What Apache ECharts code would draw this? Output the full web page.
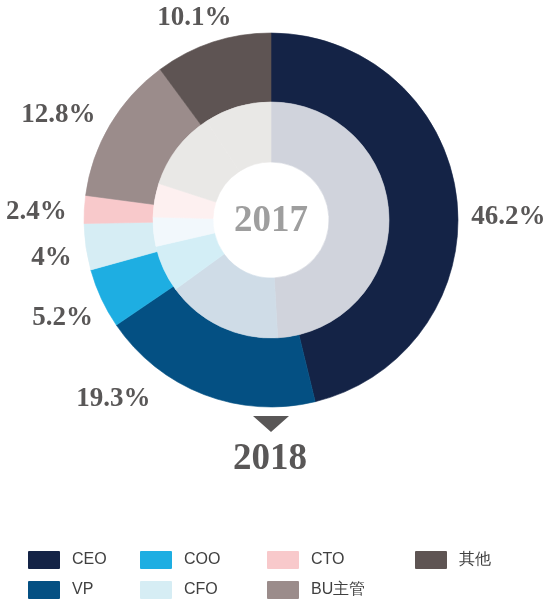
<!DOCTYPE html>
<html lang="zh">
<head>
<meta charset="utf-8">
<style>
  html, body { margin: 0; padding: 0; background: #fff; }
  #chart { width: 547px; height: 599px; }
</style>
</head>
<body>
<div id="chart"></div>
<script src="https://cdn.jsdelivr.net/npm/echarts@6/dist/echarts.min.js"></script>
<script>
// 数据
var roles = ['CEO', 'VP', 'COO', 'CFO', 'CTO', 'BU主管', '其他'];
var share2018 = [46.2, 19.3, 5.2, 4, 2.4, 12.8, 10.1];
var share2017 = [49.1, 15.9, 6.4, 4, 4.6, 10.8, 9.2];

// 颜色
var colors2018 = ['#142346', '#045083', '#1eaee2', '#d6edf4', '#f8c9cb', '#9b8c8b', '#5e5453'];
var colors2017 = ['#d0d3dc', '#cfdce7', '#d3eef6', '#f2f8fc', '#fdf0f0', '#e9e8e6', '#e9e8e6'];
// 百分比标签微调
var labelShift = [[6, 25], [-74, -38], [3, 0], [11, 4], [-2, 5], [-12, 14], [-4, 19]];

var cx = 271, cy = 220;
var serif = '"Liberation Serif", "DejaVu Serif", serif';

var myChart = echarts.init(document.getElementById('chart'));

// 边框与填充同色，盖住扇区之间的缝
function ring(values, colors) {
  return roles.map(function (name, i) {
    return { name: name, value: values[i],
      itemStyle: { color: colors[i], borderColor: colors[i], borderWidth: 0.6 } };
  });
}

var legendLefts = [28, 140, 267, 415];
var legends = legendLefts.map(function (left, i) {
  return {
    orient: 'vertical',
    left: left,
    top: 551,
    padding: 0,
    itemWidth: 30,
    itemHeight: 16,
    itemGap: 12,
    selectedMode: false,
    icon: 'rect',
    data: roles.slice(i * 2, i * 2 + 2),
    textStyle: {
      fontSize: 16,
      color: '#404040',
      fontFamily: '"Liberation Sans", Arial, sans-serif',
      padding: [0, 0, 0, 8]
    }
  };
});

option = {
  animation: false,
  legend: legends,
  graphic: [
    {
      type: 'text', x: cx, y: cy + 1, z: 10,
      style: { text: '2017', align: 'center', verticalAlign: 'middle',
        font: 'bold 37px ' + serif, fill: '#9e9e9e' }
    },
    {
      type: 'polygon', z: 10,
      shape: { points: [[253, 416], [289, 416], [271, 432]] },
      style: { fill: '#595757' }
    },
    {
      type: 'text', x: cx - 1, y: 459, z: 10,
      style: { text: '2018', align: 'center', verticalAlign: 'middle',
        font: 'bold 37px ' + serif, fill: '#595757' }
    }
  ],
  series: [
    {
      name: '2018',
      type: 'pie',
      center: [cx, cy],
      radius: [118, 187],
      startAngle: 90,
      silent: true,
      label: { show: false },
      labelLine: { show: false },
      data: ring(share2018, colors2018)
    },
    {
      name: '2017',
      type: 'pie',
      center: [cx, cy],
      radius: [58, 118],
      startAngle: 90,
      silent: true,
      label: { show: false },
      labelLine: { show: false },
      data: ring(share2017, colors2017)
    },
    {
      name: '2018标签',
      type: 'pie',
      center: [cx, cy],
      radius: [187, 273],
      startAngle: 90,
      silent: true,
      itemStyle: { color: 'rgba(0,0,0,0)' },
      labelLine: { show: false },
      label: {
        show: true,
        position: 'inside',
        formatter: '{c}%',
        fontFamily: serif,
        fontWeight: 'bold',
        fontSize: 27,
        color: '#595757'
      },
      data: roles.map(function (name, i) {
        return { name: name, value: share2018[i], label: { offset: labelShift[i] } };
      })
    }
  ]
};

myChart.setOption(option);
</script>
</body>
</html>
